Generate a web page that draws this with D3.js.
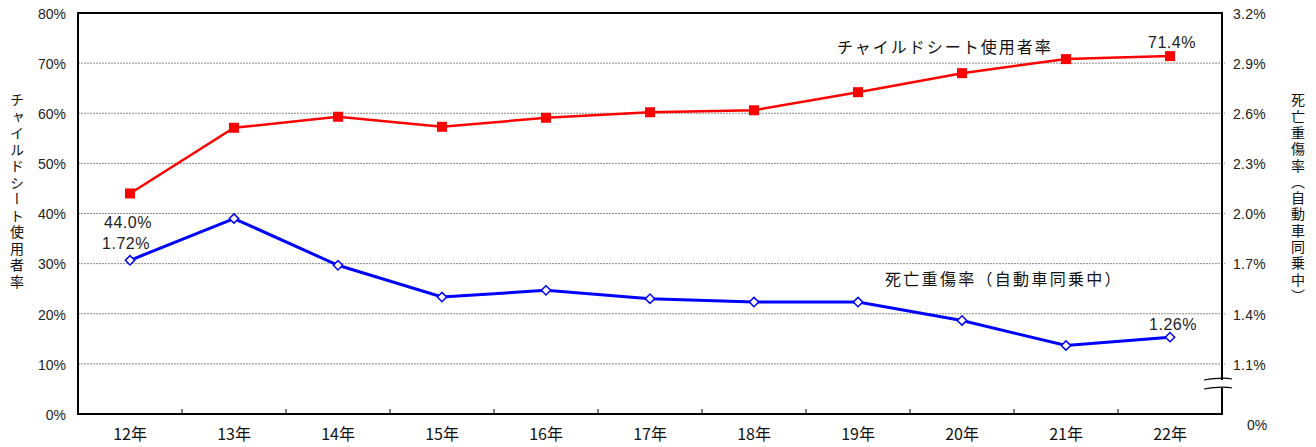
<!DOCTYPE html>
<html><head><meta charset="utf-8">
<script src="https://cdn.jsdelivr.net/npm/d3@7"></script>
<style>
body{margin:0;background:#fff;}
svg{display:block;}
.num{font-family:"Liberation Sans",Arial,sans-serif;fill:#222;}
.jp{font-family:"Noto Sans CJK JP","Noto Sans",sans-serif;fill:#111;}
</style></head>
<body>
<svg id="chart" width="1316" height="447"></svg>
<script>
const years = ["12年","13年","14年","15年","16年","17年","18年","19年","20年","21年","22年"];
const childSeatRate = [44.0, 57.1, 59.3, 57.3, 59.1, 60.2, 60.6, 64.2, 68.0, 70.8, 71.4];
const fatalityRate = [1.72, 1.97, 1.69, 1.50, 1.54, 1.49, 1.47, 1.47, 1.36, 1.21, 1.26];
const leftTicks = [0, 10, 20, 30, 40, 50, 60, 70, 80];
const rightTicks = [1.1, 1.4, 1.7, 2.0, 2.3, 2.6, 2.9, 3.2];
const rightBottomLabel = "0%";
const leftTitle = "チャイルドシート使用者率";
const rightTitle = "死亡重傷率（自動車同乗中）";
const redLabel = "チャイルドシート使用者率";
const blueLabel = "死亡重傷率（自動車同乗中）";

const L = 78, R = 1222, T = 13, B = 414;
const svg = d3.select("#chart");
const x = d3.scaleBand().domain(years).range([L, R]);
const yL = d3.scaleLinear().domain([0, 80]).range([B, T]);
const yR = d3.scaleLinear().domain([0.8, 3.2]).range([B, T]);
const cx = d => x(d) + x.bandwidth() / 2;

// gridlines
svg.append("g").selectAll("line").data(leftTicks.filter(v => v > 0 && v < 80)).join("line")
  .attr("x1", L).attr("x2", R + 3).attr("y1", d => yL(d)).attr("y2", d => yL(d))
  .attr("stroke", "#8a8a8a").attr("stroke-width", 1).attr("stroke-dasharray", "2,1");

// left axis labels
const gl = svg.append("g").attr("transform", `translate(${L},0)`)
  .call(d3.axisLeft(yL).tickValues(leftTicks).tickFormat(d => d + "%").tickSize(0).tickPadding(12));
gl.select(".domain").remove();
gl.selectAll("text").attr("class", "num").attr("font-size", 14).attr("dy", "0.38em");

// right axis labels
const gr = svg.append("g").attr("transform", `translate(${R},0)`)
  .call(d3.axisRight(yR).tickValues(rightTicks).tickFormat(d => d3.format(".1f")(d) + "%").tickSize(0).tickPadding(11));
gr.select(".domain").remove();
gr.selectAll("text").attr("class", "num").attr("font-size", 14).attr("dy", "0.38em").attr("letter-spacing", 0.3);
svg.append("text").attr("class", "num").attr("font-size", 14)
  .attr("x", R + 25).attr("y", B + 16).text(rightBottomLabel);

// x axis
const gx = svg.append("g").attr("transform", `translate(0,${B})`)
  .call(d3.axisBottom(x).tickSize(0).tickPadding(13));
gx.select(".domain").remove();
gx.selectAll("text").attr("class", "jp").attr("font-size", 16).attr("dy", "0.8em");
svg.append("g").selectAll("line").data(years.slice(1)).join("line")
  .attr("x1", d => x(d)).attr("x2", d => x(d)).attr("y1", B).attr("y2", B - 5)
  .attr("stroke", "#000").attr("stroke-width", 1);

// frame
svg.append("rect").attr("x", L).attr("y", T).attr("width", R - L).attr("height", B - T)
  .attr("fill", "none").attr("stroke", "#000").attr("stroke-width", 2);

// axis break on right axis
svg.append("rect").attr("x", R - 2).attr("y", 380).attr("width", 4).attr("height", 8).attr("fill", "#fff");
[379, 388].forEach(yy => {
  svg.append("path").attr("d", `M${R - 18},${yy + 1} Q${R},${yy - 2} ${R + 10},${yy}`)
    .attr("fill", "none").attr("stroke", "#000").attr("stroke-width", 1.2);
});

// red line
svg.append("path").datum(childSeatRate)
  .attr("d", d3.line().x((d, i) => cx(years[i])).y(d => yL(d)))
  .attr("fill", "none").attr("stroke", "#ff0000").attr("stroke-width", 2.5);
svg.append("g").selectAll("rect").data(childSeatRate).join("rect")
  .attr("x", (d, i) => cx(years[i]) - 5).attr("y", d => yL(d) - 5)
  .attr("width", 10).attr("height", 10).attr("fill", "#ff0000");

// blue line
svg.append("path").datum(fatalityRate)
  .attr("d", d3.line().x((d, i) => cx(years[i])).y(d => yR(d)))
  .attr("fill", "none").attr("stroke", "#0000ff").attr("stroke-width", 3);
svg.append("g").selectAll("path").data(fatalityRate).join("path")
  .attr("transform", (d, i) => `translate(${cx(years[i])},${yR(d)}) rotate(45)`)
  .attr("d", "M-3.3,-3.3H3.3V3.3H-3.3Z")
  .attr("fill", "#fff").attr("stroke", "#0000ff").attr("stroke-width", 1.5);

// data labels
const n = years.length - 1;
svg.append("text").attr("class", "num").attr("font-size", 16).attr("text-anchor", "middle").attr("letter-spacing", 0.5)
  .attr("x", cx(years[0]) - 2).attr("y", yL(childSeatRate[0]) + 35).text(childSeatRate[0].toFixed(1) + "%");
svg.append("text").attr("class", "num").attr("font-size", 16).attr("text-anchor", "middle").attr("letter-spacing", 0.5)
  .attr("x", cx(years[0]) - 4).attr("y", yR(fatalityRate[0]) - 11).text(fatalityRate[0].toFixed(2) + "%");
svg.append("text").attr("class", "num").attr("font-size", 16).attr("text-anchor", "middle").attr("letter-spacing", 0.5)
  .attr("x", cx(years[n]) + 2).attr("y", yL(childSeatRate[n]) - 8).text(childSeatRate[n].toFixed(1) + "%");
svg.append("text").attr("class", "num").attr("font-size", 16).attr("text-anchor", "middle").attr("letter-spacing", 0.5)
  .attr("x", cx(years[n]) + 3).attr("y", yR(fatalityRate[n]) - 7).text(fatalityRate[n].toFixed(2) + "%");

// series labels
svg.append("text").attr("class", "jp").attr("font-size", 16).attr("letter-spacing", 2)
  .attr("x", 837).attr("y", 53).text(redLabel);
svg.append("text").attr("class", "jp").attr("font-size", 16).attr("letter-spacing", 2.3)
  .attr("x", 885).attr("y", 285).text(blueLabel);

// axis titles (vertical)
svg.append("text").attr("class", "jp").attr("font-size", 14).attr("letter-spacing", 2.5)
  .attr("x", 17).attr("y", 93).style("writing-mode", "vertical-rl").style("text-orientation", "upright")
  .text(leftTitle);
svg.append("text").attr("class", "jp").attr("font-size", 14).attr("letter-spacing", 2.3)
  .attr("x", 1298).attr("y", 93).style("writing-mode", "vertical-rl").style("text-orientation", "upright")
  .text(rightTitle);
</script>
</body></html>
